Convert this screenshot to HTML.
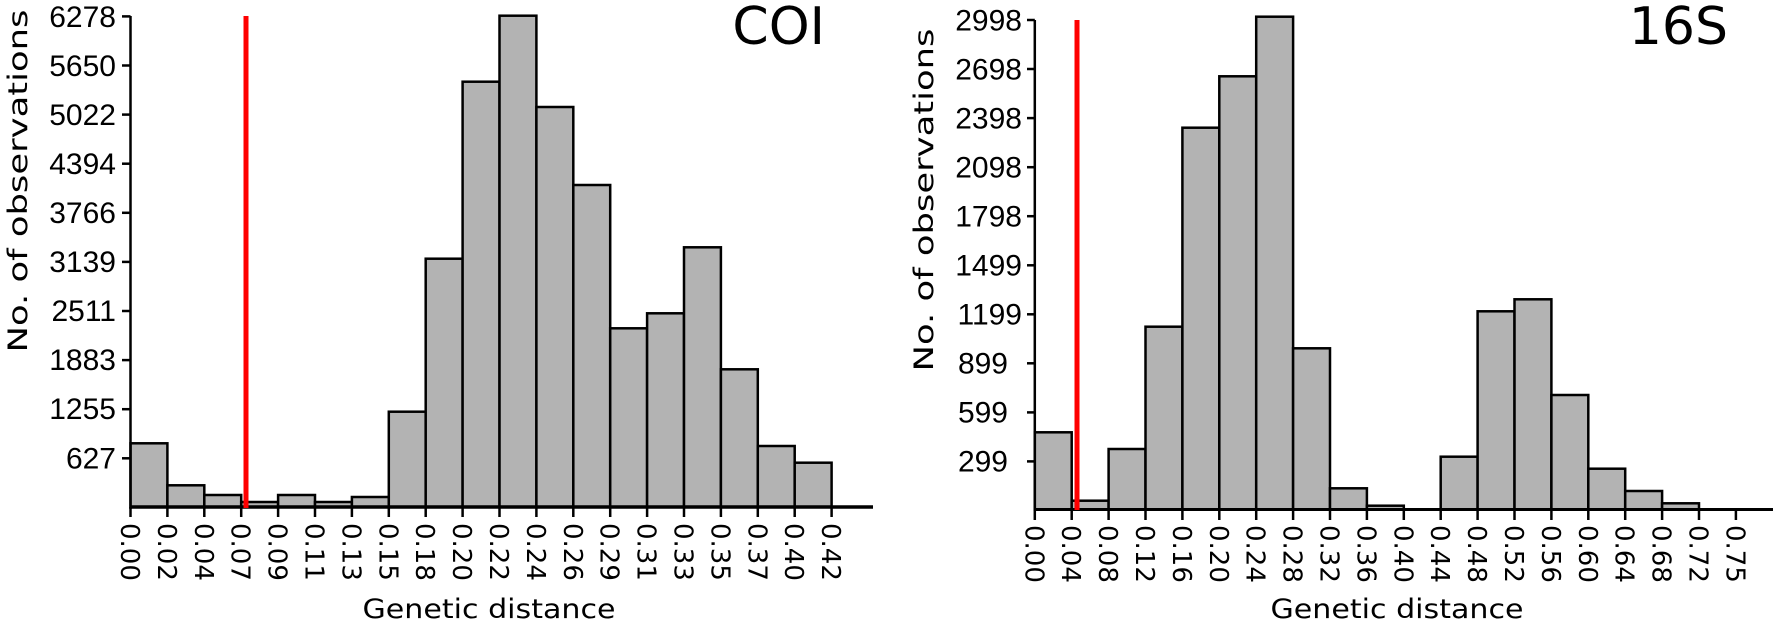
<!DOCTYPE html>
<html><head><meta charset="utf-8"><style>
html,body{margin:0;padding:0;background:#fff;}
svg{display:block;}
.yt{font-family:"Liberation Sans",sans-serif;font-size:30px;text-anchor:end;}
.xt{font-family:"DejaVu Sans",sans-serif;font-size:26px;}
.lab{font-family:"DejaVu Sans",sans-serif;font-size:27px;}
.bar{fill:#b3b3b3;stroke:#000;stroke-width:2.5;}
</style></head><body>
<svg width="1773" height="628" viewBox="0 0 1773 628" xmlns="http://www.w3.org/2000/svg">
<g>
<rect class="bar" x="130.5" y="443.3" width="36.9" height="63.7"/>
<rect class="bar" x="167.4" y="485.3" width="36.9" height="21.7"/>
<rect class="bar" x="204.3" y="495" width="36.9" height="12"/>
<rect class="bar" x="241.2" y="502" width="36.9" height="5"/>
<rect class="bar" x="278.1" y="495" width="36.9" height="12"/>
<rect class="bar" x="315" y="502" width="36.9" height="5"/>
<rect class="bar" x="351.9" y="497" width="36.9" height="10"/>
<rect class="bar" x="388.8" y="411.7" width="36.9" height="95.3"/>
<rect class="bar" x="425.7" y="258.7" width="36.9" height="248.3"/>
<rect class="bar" x="462.6" y="81.7" width="36.9" height="425.3"/>
<rect class="bar" x="499.5" y="15.7" width="36.9" height="491.3"/>
<rect class="bar" x="536.4" y="107" width="36.9" height="400"/>
<rect class="bar" x="573.3" y="185" width="36.9" height="322"/>
<rect class="bar" x="610.2" y="328.3" width="36.9" height="178.7"/>
<rect class="bar" x="647.1" y="313.3" width="36.9" height="193.7"/>
<rect class="bar" x="684" y="247.3" width="36.9" height="259.7"/>
<rect class="bar" x="720.9" y="369.3" width="36.9" height="137.7"/>
<rect class="bar" x="757.8" y="446" width="36.9" height="61"/>
<rect class="bar" x="794.7" y="462.7" width="36.9" height="44.3"/>
<line x1="130.5" y1="507" x2="873" y2="507" stroke="#000" stroke-width="3.5"/>
<line x1="130.5" y1="16" x2="130.5" y2="509" stroke="#000" stroke-width="2.5"/>
<g stroke="#000" stroke-width="2.5">
<line x1="122" y1="16.4" x2="130.5" y2="16.4"/>
<line x1="122" y1="65.5" x2="130.5" y2="65.5"/>
<line x1="122" y1="114.6" x2="130.5" y2="114.6"/>
<line x1="122" y1="163.7" x2="130.5" y2="163.7"/>
<line x1="122" y1="212.8" x2="130.5" y2="212.8"/>
<line x1="122" y1="261.9" x2="130.5" y2="261.9"/>
<line x1="122" y1="311" x2="130.5" y2="311"/>
<line x1="122" y1="360.1" x2="130.5" y2="360.1"/>
<line x1="122" y1="409.2" x2="130.5" y2="409.2"/>
<line x1="122" y1="458.3" x2="130.5" y2="458.3"/>
</g>
<g class="yt">
<text x="116" y="27">6278</text>
<text x="116" y="76">5650</text>
<text x="116" y="125">5022</text>
<text x="116" y="174">4394</text>
<text x="116" y="223">3766</text>
<text x="116" y="272">3139</text>
<text x="116" y="321">2511</text>
<text x="116" y="370">1883</text>
<text x="116" y="419">1255</text>
<text x="116" y="468.5">627</text>
</g>
<line x1="246" y1="16" x2="246" y2="508" stroke="#ff0000" stroke-width="5"/>
<text x="825" y="44" font-family="DejaVu Sans, sans-serif" font-size="52" text-anchor="end">COI</text>
<text class="lab" transform="translate(27,181) rotate(-90)" text-anchor="middle" textLength="343" lengthAdjust="spacingAndGlyphs">No. of observations</text>
<text class="lab" x="489" y="618" text-anchor="middle" textLength="253" lengthAdjust="spacingAndGlyphs">Genetic distance</text>
</g>
<g>
<rect class="bar" x="1034.8" y="432.3" width="36.9" height="77.2"/>
<rect class="bar" x="1071.7" y="500.7" width="36.9" height="8.8"/>
<rect class="bar" x="1108.6" y="449" width="36.9" height="60.5"/>
<rect class="bar" x="1145.5" y="326.7" width="36.9" height="182.8"/>
<rect class="bar" x="1182.4" y="127.7" width="36.9" height="381.8"/>
<rect class="bar" x="1219.3" y="76.3" width="36.9" height="433.2"/>
<rect class="bar" x="1256.2" y="16.7" width="36.9" height="492.8"/>
<rect class="bar" x="1293.1" y="348.3" width="36.9" height="161.2"/>
<rect class="bar" x="1330" y="488.3" width="36.9" height="21.2"/>
<rect class="bar" x="1366.9" y="505.7" width="36.9" height="3.8"/>
<rect class="bar" x="1440.7" y="456.7" width="36.9" height="52.8"/>
<rect class="bar" x="1477.6" y="311.3" width="36.9" height="198.2"/>
<rect class="bar" x="1514.5" y="299.3" width="36.9" height="210.2"/>
<rect class="bar" x="1551.4" y="395" width="36.9" height="114.5"/>
<rect class="bar" x="1588.3" y="468.7" width="36.9" height="40.8"/>
<rect class="bar" x="1625.2" y="491" width="36.9" height="18.5"/>
<rect class="bar" x="1662.1" y="503.3" width="36.9" height="6.2"/>
<line x1="1034.8" y1="509.5" x2="1773" y2="509.5" stroke="#000" stroke-width="3"/>
<line x1="1034.8" y1="20" x2="1034.8" y2="511" stroke="#000" stroke-width="2.5"/>
<g stroke="#000" stroke-width="2.5">
<line x1="1027" y1="20" x2="1034.8" y2="20"/>
<line x1="1027" y1="69" x2="1034.8" y2="69"/>
<line x1="1027" y1="118.1" x2="1034.8" y2="118.1"/>
<line x1="1027" y1="167.2" x2="1034.8" y2="167.2"/>
<line x1="1027" y1="216.2" x2="1034.8" y2="216.2"/>
<line x1="1027" y1="265.3" x2="1034.8" y2="265.3"/>
<line x1="1027" y1="314.3" x2="1034.8" y2="314.3"/>
<line x1="1027" y1="363.3" x2="1034.8" y2="363.3"/>
<line x1="1027" y1="412.4" x2="1034.8" y2="412.4"/>
<line x1="1027" y1="461.4" x2="1034.8" y2="461.4"/>
</g>
<g class="yt">
<text x="1022" y="30.5">2998</text>
<text x="1022" y="79.5">2698</text>
<text x="1022" y="128.5">2398</text>
<text x="1022" y="177.5">2098</text>
<text x="1022" y="226.5">1798</text>
<text x="1022" y="275.5">1499</text>
<text x="1022" y="324.5">1199</text>
<text x="1008" y="373.5">899</text>
<text x="1008" y="422.5">599</text>
<text x="1008" y="471.5">299</text>
</g>
<line x1="1077" y1="20" x2="1077" y2="510" stroke="#ff0000" stroke-width="5"/>
<text x="1728" y="44" font-family="DejaVu Sans, sans-serif" font-size="52" text-anchor="end">16S</text>
<text class="lab" transform="translate(933,200) rotate(-90)" text-anchor="middle" textLength="343" lengthAdjust="spacingAndGlyphs">No. of observations</text>
<text class="lab" x="1397" y="618" text-anchor="middle" textLength="253" lengthAdjust="spacingAndGlyphs">Genetic distance</text>
</g>
<g stroke="#000" stroke-width="2.5">
<line x1="130.5" y1="507" x2="130.5" y2="517"/><line x1="167.4" y1="507" x2="167.4" y2="517"/><line x1="204.3" y1="507" x2="204.3" y2="517"/><line x1="241.2" y1="507" x2="241.2" y2="517"/><line x1="278.1" y1="507" x2="278.1" y2="517"/><line x1="315" y1="507" x2="315" y2="517"/><line x1="351.9" y1="507" x2="351.9" y2="517"/><line x1="388.8" y1="507" x2="388.8" y2="517"/><line x1="425.7" y1="507" x2="425.7" y2="517"/><line x1="462.6" y1="507" x2="462.6" y2="517"/><line x1="499.5" y1="507" x2="499.5" y2="517"/><line x1="536.4" y1="507" x2="536.4" y2="517"/><line x1="573.3" y1="507" x2="573.3" y2="517"/><line x1="610.2" y1="507" x2="610.2" y2="517"/><line x1="647.1" y1="507" x2="647.1" y2="517"/><line x1="684" y1="507" x2="684" y2="517"/><line x1="720.9" y1="507" x2="720.9" y2="517"/><line x1="757.8" y1="507" x2="757.8" y2="517"/><line x1="794.7" y1="507" x2="794.7" y2="517"/><line x1="831.6" y1="507" x2="831.6" y2="517"/>
<line x1="1034.8" y1="509" x2="1034.8" y2="520"/><line x1="1071.7" y1="509" x2="1071.7" y2="520"/><line x1="1108.6" y1="509" x2="1108.6" y2="520"/><line x1="1145.5" y1="509" x2="1145.5" y2="520"/><line x1="1182.4" y1="509" x2="1182.4" y2="520"/><line x1="1219.3" y1="509" x2="1219.3" y2="520"/><line x1="1256.2" y1="509" x2="1256.2" y2="520"/><line x1="1293.1" y1="509" x2="1293.1" y2="520"/><line x1="1330" y1="509" x2="1330" y2="520"/><line x1="1366.9" y1="509" x2="1366.9" y2="520"/><line x1="1403.8" y1="509" x2="1403.8" y2="520"/><line x1="1440.7" y1="509" x2="1440.7" y2="520"/><line x1="1477.6" y1="509" x2="1477.6" y2="520"/><line x1="1514.5" y1="509" x2="1514.5" y2="520"/><line x1="1551.4" y1="509" x2="1551.4" y2="520"/><line x1="1588.3" y1="509" x2="1588.3" y2="520"/><line x1="1625.2" y1="509" x2="1625.2" y2="520"/><line x1="1662.1" y1="509" x2="1662.1" y2="520"/><line x1="1699" y1="509" x2="1699" y2="520"/><line x1="1735.9" y1="509" x2="1735.9" y2="520"/>
</g>
<g class="xt">
<text transform="translate(121,523) rotate(90)">0.00</text>
<text transform="translate(157.9,523) rotate(90)">0.02</text>
<text transform="translate(194.8,523) rotate(90)">0.04</text>
<text transform="translate(231.7,523) rotate(90)">0.07</text>
<text transform="translate(268.6,523) rotate(90)">0.09</text>
<text transform="translate(305.5,523) rotate(90)">0.11</text>
<text transform="translate(342.4,523) rotate(90)">0.13</text>
<text transform="translate(379.3,523) rotate(90)">0.15</text>
<text transform="translate(416.2,523) rotate(90)">0.18</text>
<text transform="translate(453.1,523) rotate(90)">0.20</text>
<text transform="translate(490,523) rotate(90)">0.22</text>
<text transform="translate(526.9,523) rotate(90)">0.24</text>
<text transform="translate(563.8,523) rotate(90)">0.26</text>
<text transform="translate(600.7,523) rotate(90)">0.29</text>
<text transform="translate(637.6,523) rotate(90)">0.31</text>
<text transform="translate(674.5,523) rotate(90)">0.33</text>
<text transform="translate(711.4,523) rotate(90)">0.35</text>
<text transform="translate(748.3,523) rotate(90)">0.37</text>
<text transform="translate(785.2,523) rotate(90)">0.40</text>
<text transform="translate(822.1,523) rotate(90)">0.42</text>
<text transform="translate(1025.3,525) rotate(90)">0.00</text>
<text transform="translate(1062.2,525) rotate(90)">0.04</text>
<text transform="translate(1099.1,525) rotate(90)">0.08</text>
<text transform="translate(1136,525) rotate(90)">0.12</text>
<text transform="translate(1172.9,525) rotate(90)">0.16</text>
<text transform="translate(1209.8,525) rotate(90)">0.20</text>
<text transform="translate(1246.7,525) rotate(90)">0.24</text>
<text transform="translate(1283.6,525) rotate(90)">0.28</text>
<text transform="translate(1320.5,525) rotate(90)">0.32</text>
<text transform="translate(1357.4,525) rotate(90)">0.36</text>
<text transform="translate(1394.3,525) rotate(90)">0.40</text>
<text transform="translate(1431.2,525) rotate(90)">0.44</text>
<text transform="translate(1468.1,525) rotate(90)">0.48</text>
<text transform="translate(1505,525) rotate(90)">0.52</text>
<text transform="translate(1541.9,525) rotate(90)">0.56</text>
<text transform="translate(1578.8,525) rotate(90)">0.60</text>
<text transform="translate(1615.7,525) rotate(90)">0.64</text>
<text transform="translate(1652.6,525) rotate(90)">0.68</text>
<text transform="translate(1689.5,525) rotate(90)">0.72</text>
<text transform="translate(1726.4,525) rotate(90)">0.75</text>
</g>
</svg>
</body></html>
